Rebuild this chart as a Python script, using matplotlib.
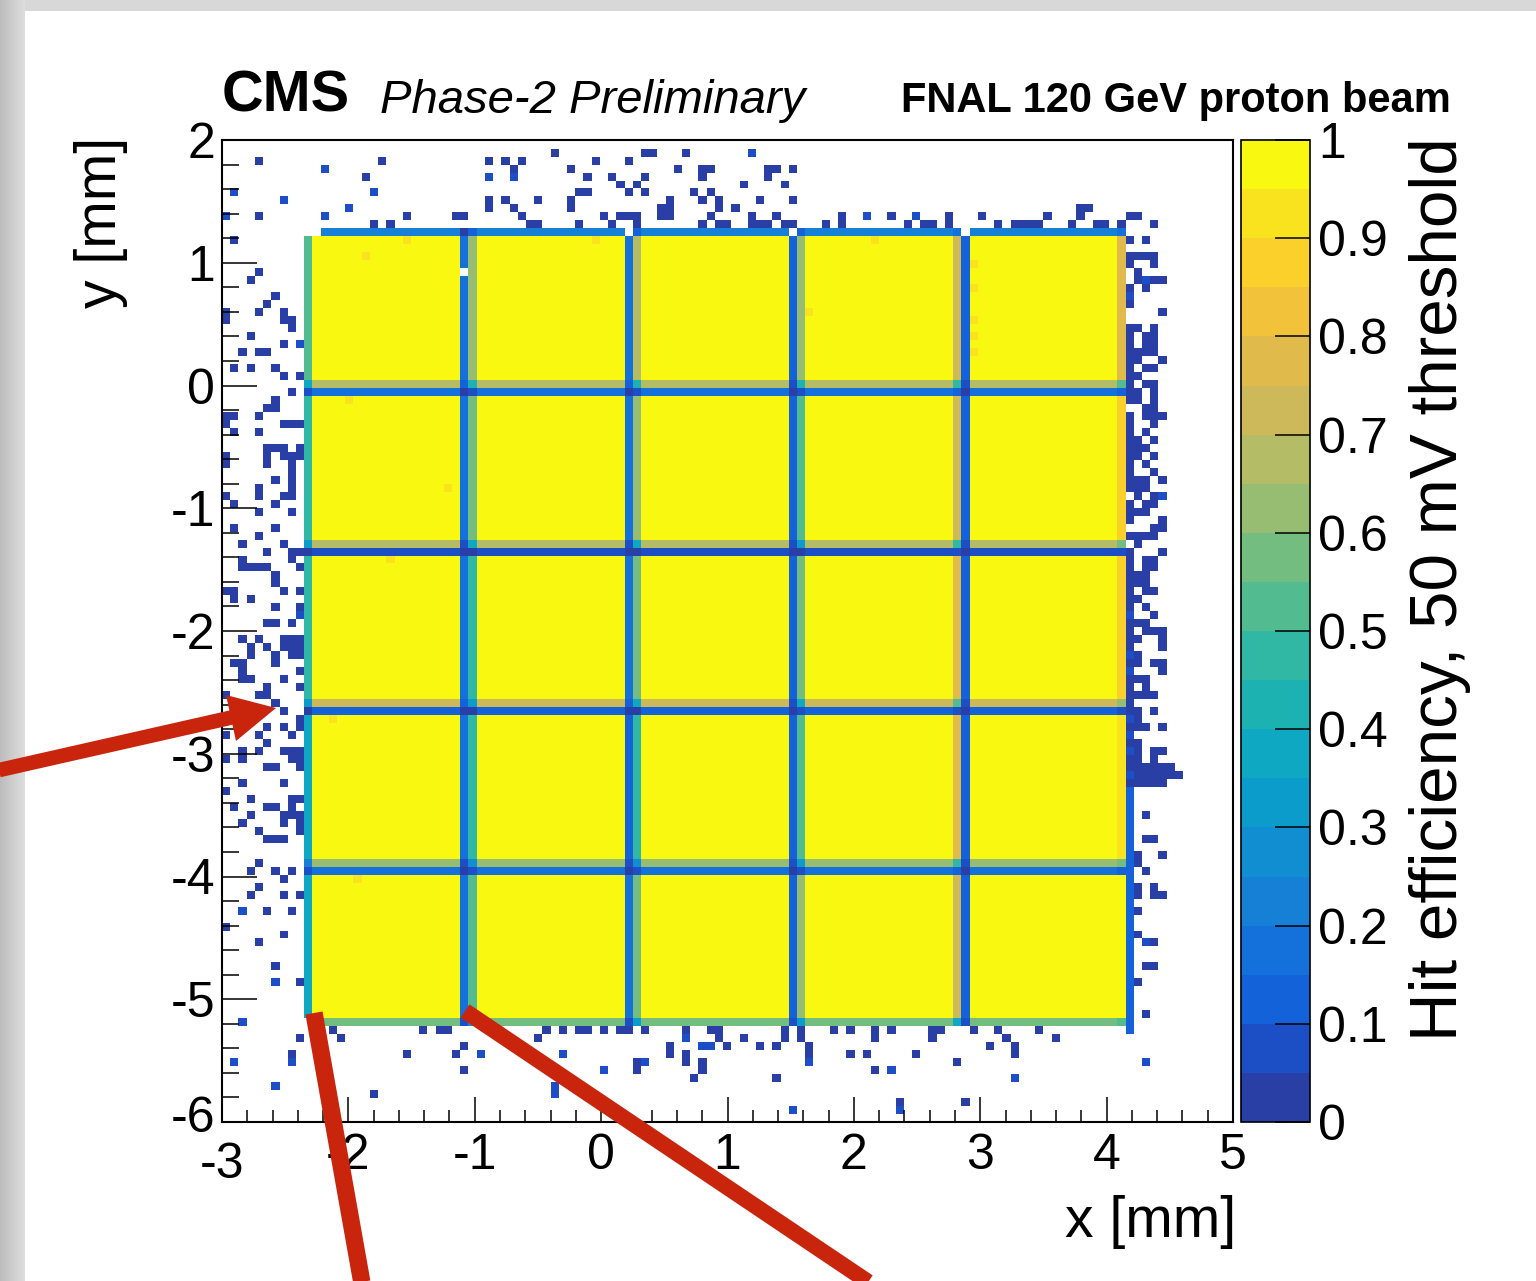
import numpy as np
import matplotlib
matplotlib.use("Agg")
import matplotlib.pyplot as plt
from matplotlib.colors import ListedColormap, Normalize
from matplotlib.lines import Line2D
from matplotlib.patches import Polygon, Rectangle
from matplotlib.ticker import MultipleLocator
from matplotlib.transforms import ScaledTranslation

plt.rcParams['font.family'] = ['Liberation Sans', 'DejaVu Sans']
plt.rcParams['axes.unicode_minus'] = False

# ---------------- binning of the 2D efficiency map ----------------
bin_width = 0.065
n_bins = 123
x_start = -3.0
y_top = 1.995           # rows are counted from the top

# ---------------- sensor (5x5 pads, 20 bins each) ----------------
pad_first_col = 10
pad_first_row = 11
pad_bins = 20
n_pads = 5
# first / last column of each pad column, one row of values per pad row (top to bottom)
left_col_eff = [[0.52, 0.62, 0.66, 0.60, 0.13],
                [0.48, 0.55, 0.60, 0.50, 0.13],
                [0.45, 0.45, 0.55, 0.55, 0.12],
                [0.38, 0.45, 0.45, 0.50, 0.12],
                [0.35, 0.50, 0.55, 0.60, 0.13]]
right_col_eff = [[0.15, 0.15, 0.13, 0.70, 0.78],
                 [0.15, 0.15, 0.13, 0.72, 0.85],
                 [0.16, 0.15, 0.12, 0.78, 0.88],
                 [0.16, 0.14, 0.12, 0.75, 0.92],
                 [0.17, 0.15, 0.13, 0.70, 0.97]]
top_row_eff = [0.22, 0.15, 0.08, 0.10, 0.15]      # first row of each pad row
bottom_row_eff = [0.68, 0.66, 0.70, 0.60, 0.55]   # last row of each pad row
edge_blue_col = 110
edge_blue_rows = (81, 111)
edge_blue_eff = 0.13
hot_bins = [(17, 14), (22, 12), (45, 12), (27, 43), (20, 52), (15, 32), (13, 72),
            (16, 92), (79, 12), (71, 21), (91, 15), (91, 18), (91, 22), (91, 24), (91, 26)]
hot_eff = 0.9
empty_bins = [(10, 11), (11, 11), (49, 11), (69, 11), (90, 11), (29, 16), (10, 110)]

# ---------------- inefficient bins outside the sensor: {row: [cols]} ----------------
left_noise = {
    2: [4], 9: [4], 12: [1], 16: [4], 17: [3], 19: [6], 20: [5], 21: [0, 4, 7], 22: [0, 7, 8],
    23: [8], 24: [3], 25: [7], 26: [2, 4, 5], 28: [1, 3, 6], 29: [7, 9], 31: [8], 32: [6],
    33: [5, 6], 34: [0, 1, 4], 35: [0, 7, 8, 9], 36: [1, 4], 38: [5, 6, 7, 9], 39: [0, 5, 7, 8, 9],
    40: [0, 5, 8], 41: [8], 42: [6, 8], 43: [4, 8], 44: [0, 4, 7, 8], 45: [1, 6], 46: [4, 8],
    48: [1, 6], 49: [4], 50: [2, 7], 51: [5, 8, 9], 52: [2, 8], 53: [2, 3, 4, 5, 9], 54: [6],
    55: [6], 56: [0, 1, 7, 9], 57: [1, 3], 58: [6, 9], 60: [5, 6, 8], 62: [2, 4, 7, 8, 9],
    63: [3, 5, 7, 8, 9], 64: [3, 6, 8, 9], 65: [1, 2, 6], 66: [2, 9], 67: [2, 3, 7], 68: [5, 9],
    69: [0, 4, 5], 70: [6], 71: [7], 72: [9], 73: [5, 7, 9], 74: [0, 4, 8], 75: [5],
    76: [2, 4, 7, 8, 9], 77: [0, 2, 8, 9], 78: [5, 6, 9], 80: [2, 7], 81: [0], 82: [3, 8, 9],
    83: [1, 5, 6, 8], 84: [3, 7, 8, 9], 85: [2, 7, 9], 86: [4, 9], 87: [5, 6, 7], 90: [4],
    91: [3, 6, 8], 92: [7], 93: [4], 94: [3, 7, 9], 96: [5, 8], 98: [0], 99: [7], 100: [4],
    103: [6], 105: [9], 112: [9], 114: [8]}
right_noise = {
    9: [110, 111], 10: [109, 113], 12: [110, 112], 14: [110, 111, 112, 113], 15: [110, 113],
    16: [111], 17: [111, 113, 114], 18: [110, 112], 20: [110], 21: [114], 23: [110, 111, 113],
    24: [110, 112, 113], 25: [110, 112, 113], 26: [110, 111, 112, 113], 27: [110, 111, 114],
    28: [110, 112, 113], 29: [110, 111], 30: [110, 112, 113], 31: [110, 111, 113],
    32: [110, 111, 113], 33: [112, 113], 34: [110, 112, 113, 114], 35: [110, 113], 36: [110, 112],
    37: [110, 111, 113], 38: [110, 111, 112], 39: [110, 111, 113], 40: [110, 112], 41: [110, 113],
    42: [110, 111, 112, 114], 43: [110, 111, 112], 44: [111, 113], 45: [110, 112, 113],
    46: [110, 111, 112], 47: [110, 114], 48: [113, 114], 49: [110, 111, 112, 113], 50: [111],
    51: [110, 114], 52: [110, 112, 113], 53: [110, 112, 113], 54: [110, 111, 112],
    55: [110, 111, 112], 56: [110, 112, 113], 57: [110, 111], 58: [110, 112], 59: [113],
    60: [110, 111, 112], 61: [110, 112, 113, 114], 62: [110, 111, 114], 63: [110, 114], 64: [111],
    65: [110, 111, 113, 114], 66: [114], 67: [110, 111, 112], 68: [110, 112],
    69: [110, 111, 112, 113], 70: [110], 71: [110, 111, 113], 72: [111], 73: [110, 111, 112, 114],
    75: [110, 111], 76: [111, 113, 114], 77: [110, 111, 113], 78: [110, 111, 112, 113, 114, 115],
    79: [111, 112, 113, 114, 115, 116], 80: [110, 111, 112, 113, 114], 84: [112], 87: [112, 113],
    89: [111, 114], 90: [111], 91: [112], 93: [111, 113], 94: [111, 113, 114], 96: [111],
    99: [111], 100: [113], 103: [112, 113], 105: [111], 109: [112]}
top_noise = {
    1: [40, 51, 52, 56], 2: [19, 32, 34, 36, 45, 49], 3: [35, 42, 55, 58, 59, 66, 67, 69],
    4: [17, 44, 47, 51, 58, 66], 5: [48, 50, 63, 68], 6: [43, 44, 49, 51, 57, 59],
    7: [32, 34, 38, 42, 54, 58, 60, 65, 69], 8: [32, 35, 42, 53, 54, 60, 62, 104, 105],
    9: [22, 28, 29, 36, 46, 48, 49, 50, 53, 54, 59, 64, 67, 75, 81, 88, 92, 100, 104],
    10: [18, 20, 37, 38, 43, 47, 50, 58, 60, 61, 64, 65, 66, 68, 69, 73, 75, 83, 85, 86, 88,
         94, 96, 97, 98, 99, 103, 106, 107]}
bottom_noise = {
    111: [13, 24, 26, 27, 39, 41, 43, 44, 46, 48, 49, 51, 56, 59, 60, 68, 70, 74, 76, 79, 81,
          86, 87, 91, 94, 99],
    112: [14, 38, 60, 63, 68, 70, 79, 86, 95, 101], 113: [29, 54, 61, 65, 67, 71, 93, 96],
    114: [22, 28, 54, 56, 71, 76, 78, 84, 96], 115: [50, 56, 58, 89], 116: [29, 50, 58, 79],
    117: [57, 67], 119: [18], 120: [82, 90]}
noise_eff = 0.01
light_noise = [(1, 6), (7, 7), (0, 9), (9, 25), (9, 59), (2, 96), (6, 105), (2, 110), (1, 115),
               (8, 115), (6, 118), (112, 17), (110, 19), (114, 44), (110, 59), (110, 64),
               (110, 66), (110, 72), (110, 74), (110, 76), (110, 79), (112, 100), (112, 115),
               (64, 1), (12, 3), (32, 4), (35, 4), (18, 6), (15, 8), (12, 9), (78, 9), (84, 9),
               (31, 114), (41, 114), (51, 115), (71, 115), (46, 116), (81, 116), (96, 117),
               (40, 118), (40, 119), (69, 121), (82, 121), (56, 112), (58, 113), (59, 113)]
light_eff = 0.07

# colour levels (20 contours, bottom to top)
level_colors = ['#2a3fa6', '#1c4fc5', '#1462da', '#1471db', '#1580d6', '#118ed2', '#0c9ccb',
                '#0ea8c3', '#1db2b2', '#30b8a4', '#52bb90', '#74bd80', '#96bd71', '#b4bc66',
                '#cdb95a', '#e0bb4b', '#f1c23a', '#fcd02b', '#f9e31f', '#f8f811']
cbar_ticks = [0, 0.1, 0.2, 0.3, 0.4, 0.5, 0.6, 0.7, 0.8, 0.9, 1.0]
cbar_labels = ['0', '0.1', '0.2', '0.3', '0.4', '0.5', '0.6', '0.7', '0.8', '0.9', '1']

# ---------------- build the map ----------------
Z = np.full((n_bins, n_bins), np.nan)
n_pad = pad_bins * n_pads
pad = np.ones((n_pad, n_pad))
for j in range(n_pads):
    rs = slice(pad_bins * j, pad_bins * (j + 1))
    for i in range(n_pads):
        pad[rs, pad_bins * i] = left_col_eff[j][i]
        pad[rs, pad_bins * i + pad_bins - 1] = right_col_eff[j][i]
rowprof = np.ones(n_pad)
for j in range(n_pads):
    rowprof[pad_bins * j] = top_row_eff[j]
    rowprof[pad_bins * j + pad_bins - 1] = bottom_row_eff[j]
pad = pad * rowprof[:, None]
Z[pad_first_row:pad_first_row + n_pad, pad_first_col:pad_first_col + n_pad] = pad
for (c, r) in hot_bins:
    Z[r, c] = hot_eff
Z[edge_blue_rows[0]:edge_blue_rows[1] + 1, edge_blue_col] = edge_blue_eff
for region in (left_noise, right_noise, top_noise, bottom_noise):
    for r, cols in region.items():
        for c in cols:
            Z[r, c] = noise_eff
for (c, r) in light_noise:
    Z[r, c] = light_eff
for (c, r) in empty_bins:
    Z[r, c] = np.nan
Zm = np.ma.masked_invalid(Z)

x_edges = x_start + bin_width * np.arange(n_bins + 1)
y_edges = y_top - bin_width * np.arange(n_bins + 1)

# ---------------- figure ----------------
W, H = 1536, 1281
fig = plt.figure(figsize=(W / 100, H / 100), dpi=100)
fig.patch.set_facecolor('#d8d8d8')


def px(x, y):
    return (x / W, 1 - y / H)


fig.add_artist(Rectangle(px(25, H), 1, (H - 11) / H, transform=fig.transFigure,
                         facecolor='white', edgecolor='none', zorder=-10))
grad = np.linspace(0.74, 0.87, 25)
strip = np.ones((H, 25, 3)) * grad[None, :, None]
fig.figimage(strip, xo=0, yo=0, zorder=-5)

ax = fig.add_axes([222 / W, 1 - 1122 / H, 1011 / W, 982 / H])
cmap = ListedColormap(level_colors)
mesh = ax.pcolormesh(x_edges, y_edges, Zm, cmap=cmap, norm=Normalize(0, 1),
                     shading='flat', antialiased=False, edgecolors='none')
ax.set_xlim(-3, 5)
ax.set_ylim(-6, 2)
ax.set_xticks(range(-3, 6))
ax.set_yticks(range(-6, 3))
ax.xaxis.set_minor_locator(MultipleLocator(0.2))
ax.yaxis.set_minor_locator(MultipleLocator(0.2))
ax.tick_params(axis='x', which='major', direction='in', length=18, width=1.1,
               labelsize=36, pad=8, top=False)
ax.tick_params(axis='x', which='minor', direction='in', length=8.6, width=1.1, top=False)
ax.tick_params(axis='y', which='major', direction='in', length=25, width=1.1,
               labelsize=36, pad=5, right=False)
ax.tick_params(axis='y', which='minor', direction='in', length=12.5, width=1.1, right=False)
for s in ax.spines.values():
    s.set_linewidth(1.5)

# the corner labels (-6 on y, -3 on x) sit very close in the reference: nudge apart a little
fig.canvas.draw()
ylab0 = ax.get_yticklabels()[0]
xlab0 = ax.get_xticklabels()[0]
ylab0.set_transform(ylab0.get_transform() + ScaledTranslation(0, 8 / 100, fig.dpi_scale_trans))
xlab0.set_transform(xlab0.get_transform() + ScaledTranslation(0, -9 / 100, fig.dpi_scale_trans))

cax = fig.add_axes([1241 / W, 1 - 1122 / H, 69 / W, 982 / H])
cb = fig.colorbar(mesh, cax=cax, ticks=cbar_ticks)
cb.ax.set_yticklabels(cbar_labels)
cb.minorticks_off()
cb.ax.tick_params(direction='in', length=25, width=1.1, labelsize=36, pad=6)
cb.outline.set_linewidth(1.2)

# ---------------- texts ----------------
fig.text(*px(222, 112), 'CMS', fontsize=41.5, fontweight='bold', va='baseline', ha='left')
fig.text(*px(380, 113), 'Phase-2 Preliminary', fontsize=34, fontstyle='italic',
         va='baseline', ha='left')
fig.text(*px(1451, 112), 'FNAL 120 GeV proton beam', fontsize=30, fontweight='bold',
         va='baseline', ha='right')
fig.text(*px(101, 137), 'y [mm]', fontsize=41, rotation=90, ha='center', va='top')
fig.text(*px(1236, 1222), 'x [mm]', fontsize=41, ha='right', va='center')
fig.text(*px(1440, 137), 'Hit efficiency, 50 mV threshold', fontsize=48.5, rotation=90,
         ha='center', va='top')

# ---------------- red annotation arrows on the screenshot ----------------
red = '#c9250d'
fig.add_artist(Line2D(*zip(px(-5, 771), px(238, 716)), transform=fig.transFigure,
                      color=red, lw=10.5, solid_capstyle='butt'))
fig.add_artist(Polygon([px(276, 708), px(236, 741), px(226, 695)], closed=True,
                       transform=fig.transFigure, facecolor=red, edgecolor='none'))
fig.add_artist(Line2D(*zip(px(314, 1013), px(365, 1300)), transform=fig.transFigure,
                      color=red, lw=12.5, solid_capstyle='butt'))
fig.add_artist(Line2D(*zip(px(465, 1011), px(895, 1300)), transform=fig.transFigure,
                      color=red, lw=11.5, solid_capstyle='butt'))

fig.savefig('out.png', dpi=100, facecolor=fig.get_facecolor())
